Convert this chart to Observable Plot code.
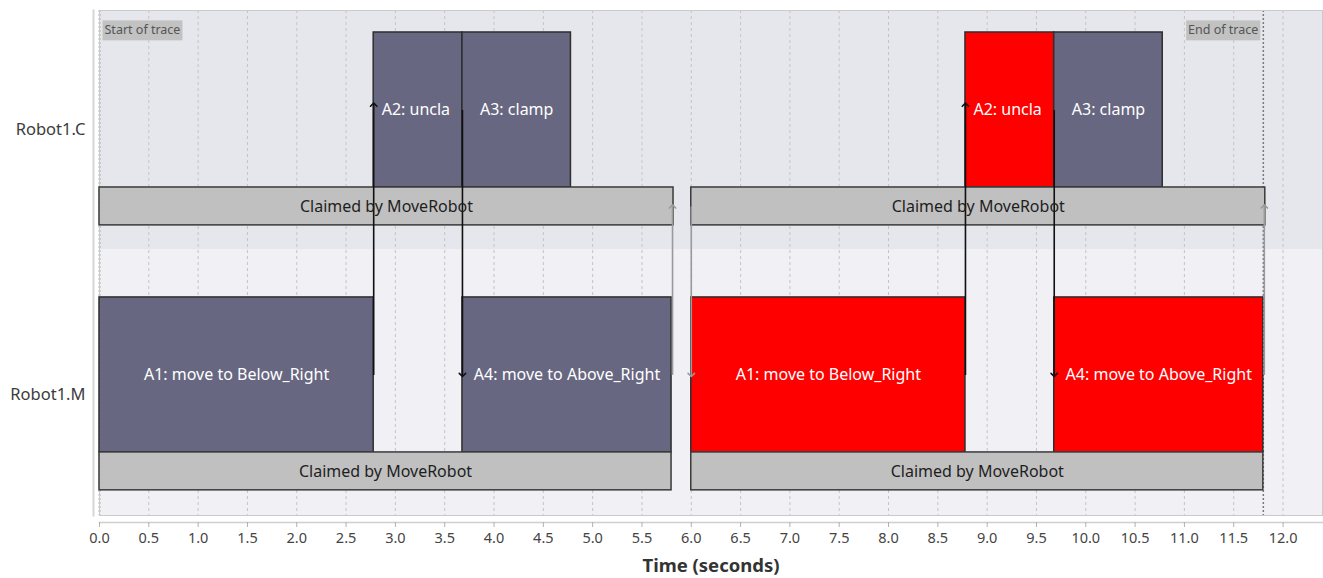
<!DOCTYPE html>
<html><head><meta charset="utf-8">
<script src="https://cdn.jsdelivr.net/npm/d3@7"></script>
<script src="https://cdn.jsdelivr.net/npm/@observablehq/plot@0.6"></script>
<style>
html,body{margin:0;padding:0;background:#fff;}
#chart{font-family:"Noto Sans",sans-serif;}
</style></head><body><div id="chart"></div>
<script>
// ---- data ----
const lanes = ["Robot1.C", "Robot1.M"];

const actionLabels = ["A2: unclamp", "A3: clamp", "A1: move to Below_Right", "A4: move to Above_Right",
                      "A2: unclamp", "A3: clamp", "A1: move to Below_Right", "A4: move to Above_Right"];
const actionResource = ["Robot1.C", "Robot1.C", "Robot1.M", "Robot1.M",
                        "Robot1.C", "Robot1.C", "Robot1.M", "Robot1.M"];
const actionStart = [2.78, 3.68, 0.0, 3.68, 8.78, 9.68, 6.0, 9.68];
const actionEnd   = [3.68, 4.78, 2.78, 5.80, 9.68, 10.78, 8.78, 11.80];
const actionFailed = [false, false, false, false, true, false, true, true];

const claimLabels = ["Claimed by MoveRobot", "Claimed by MoveRobot", "Claimed by MoveRobot", "Claimed by MoveRobot"];
const claimResource = ["Robot1.C", "Robot1.M", "Robot1.C", "Robot1.M"];
const claimStart = [0.0, 0.0, 6.0, 6.0];
const claimEnd   = [5.82, 5.80, 11.82, 11.80];

// dependency arrows: time, from lane/part, to lane/part
const depTime  = [2.78, 3.68, 8.78, 9.68, 5.81, 11.81, 6.0];
const depFrom  = ["Robot1.M", "Robot1.C", "Robot1.M", "Robot1.C", "Robot1.M", "Robot1.M", "Robot1.C"];
const depFromPart = ["action", "action", "action", "action", "action", "action", "claim"];
const depTo    = ["Robot1.C", "Robot1.M", "Robot1.C", "Robot1.M", "Robot1.C", "Robot1.C", "Robot1.M"];
const depToPart = ["action", "action", "action", "action", "claim", "claim", "action"];
const depKind  = ["action", "action", "action", "action", "claim", "claim", "claim"];

const traceStart = 0.0;
const traceEnd = 11.8;
const traceLabels = ["Start of trace", "End of trace"];

const xTicks = d3.range(0, 25).map(i => i * 0.5);
const axisTitle = "Time (seconds)";

// ---- layout (geometry within a lane, in lane units) ----
const yDomain = [-0.449, 1.457];
const ACT_TOP = -0.366, ACT_BOT = 0.219, CLM_BOT = 0.362;
const partY = {action: (ACT_TOP + ACT_BOT) / 2, claim: (ACT_BOT + CLM_BOT) / 2};
const laneSplit = 0.453;

const actions = actionLabels.map((label, i) => ({
  label, lane: lanes.indexOf(actionResource[i]), start: actionStart[i], end: actionEnd[i], failed: actionFailed[i]
}));
const claims = claimLabels.map((label, i) => ({
  label, lane: lanes.indexOf(claimResource[i]), start: claimStart[i], end: claimEnd[i]
}));
const deps = depTime.map((t, i) => ({
  t, kind: depKind[i],
  y1: lanes.indexOf(depFrom[i]) + partY[depFromPart[i]],
  y2: lanes.indexOf(depTo[i]) + partY[depToPart[i]] + (depToPart[i] === "action" && depTo[i] === "Robot1.C" ? -0.02 : 0)
}));
const laneBg = lanes.map((name, i) => ({
  name, y1: i === 0 ? yDomain[0] : laneSplit, y2: i === 0 ? laneSplit : yDomain[1]
}));

const fits = d => (d.end - d.start) > 1.0;
const FONT = "Noto Sans";

const chart = Plot.plot({
  width: 1323, height: 578,
  marginLeft: 99, marginRight: 1, marginTop: 10, marginBottom: 63,
  style: {fontFamily: FONT, fontSize: "13px", color: "#333", background: "#fff", overflow: "visible"},
  x: {domain: [0, 12.4]},
  y: {domain: yDomain, range: [10, 515]},
  marks: [
    Plot.rect(laneBg, {y1: "y1", y2: "y2", fill: (d, i) => i === 0 ? "#e6e6ed" : "#f0f0f5"}),
    Plot.ruleX(xTicks.filter(t => t > 0), {stroke: "#c4c4c8", strokeDasharray: "3,3", strokeWidth: 1}),
    Plot.ruleX([traceStart, traceEnd], {stroke: "#7a7a7a", strokeDasharray: "2,2", strokeWidth: 1.5}),
    Plot.frame({stroke: "#cacaca"}),
    Plot.frame({anchor: "left", dx: -6, stroke: "#d6d6d6", strokeWidth: 2}),
    Plot.frame({anchor: "bottom", dy: 7, stroke: "#cfcfcf", strokeWidth: 1.5}),
    // actions
    Plot.rect(actions, {x1: "start", x2: "end", y1: d => d.lane + ACT_TOP, y2: d => d.lane + ACT_BOT,
      fill: d => d.failed ? "#ff0000" : "#676781", stroke: "#2e2e2e", strokeWidth: 1.5}),
    // claims
    Plot.rect(claims, {x1: "start", x2: "end", y1: d => d.lane + ACT_BOT, y2: d => d.lane + CLM_BOT,
      fill: "#c0c0c0", stroke: "#3a3a3a", strokeWidth: 1.5}),
    // dependency arrows
    Plot.link(deps.filter(d => d.kind === "claim"), {x1: "t", x2: "t", y1: "y1", y2: "y2",
      stroke: "#9a9a9a", strokeWidth: 1.6, markerEnd: "arrow"}),
    Plot.link(deps.filter(d => d.kind === "action"), {x1: "t", x2: "t", y1: "y1", y2: "y2",
      stroke: "#111", strokeWidth: 1.6, markerEnd: "arrow"}),
    // action labels
    Plot.text(actions.filter(fits), {x: d => (d.start + d.end) / 2, y: d => d.lane + partY.action,
      text: "label", fill: "#fff", fontSize: 16, fontFamily: FONT}),
    Plot.text(actions.filter(d => !fits(d)), {x: "start", y: d => d.lane + partY.action, dx: 8,
      text: "label", fill: "#fff", fontSize: 16, fontFamily: FONT, textAnchor: "start",
      lineWidth: 5.0, textOverflow: "clip"}),
    // claim labels
    Plot.text(claims, {x: d => (d.start + d.end) / 2, y: d => d.lane + partY.claim,
      text: "label", fill: "#1e1e1e", fontSize: 16, fontFamily: FONT}),
    // trace labels
    Plot.text([traceLabels[0]], {x: traceStart, frameAnchor: "top", dy: 15, dx: 5, textAnchor: "start",
      text: d => d, fill: "#555", fontSize: 12.5, fontFamily: FONT, ariaDescription: "trace-label"}),
    Plot.text([traceLabels[1]], {x: traceEnd, frameAnchor: "top", dy: 15, dx: -5, textAnchor: "end",
      text: d => d, fill: "#555", fontSize: 12.5, fontFamily: FONT, ariaDescription: "trace-label"}),
    // axes
    Plot.axisY([0, 1], {tickSize: 0, tickPadding: 14, tickFormat: i => lanes[i], fontSize: 16.5, color: "#3c3c3c", label: null}),
    Plot.axisX(xTicks, {tickSize: 5, tickFormat: () => "", dy: 7, color: "#b0b0b0", label: null}),
    Plot.axisX(xTicks, {tickSize: 0, tickPadding: 17, tickFormat: d3.format(".1f"), fontSize: 14.5, color: "#444", label: null}),
    Plot.text([axisTitle], {frameAnchor: "bottom", dy: 56, text: d => d, fontWeight: "bold", fontSize: 18.5, fill: "#333", fontFamily: FONT})
  ]
});
document.getElementById("chart").appendChild(chart);

// grey background boxes behind the trace labels
chart.querySelectorAll('g[aria-description="trace-label"] text').forEach(t => {
  const b = t.getBBox();
  const r = document.createElementNS("http://www.w3.org/2000/svg", "rect");
  r.setAttribute("x", b.x - 2);
  r.setAttribute("y", b.y - 1);
  r.setAttribute("width", b.width + 4);
  r.setAttribute("height", b.height + 3);
  r.setAttribute("fill", "#c2c2c2");
  const tr = t.getAttribute("transform");
  if (tr) r.setAttribute("transform", tr);
  t.parentNode.insertBefore(r, t);
});
</script>
</body></html>
